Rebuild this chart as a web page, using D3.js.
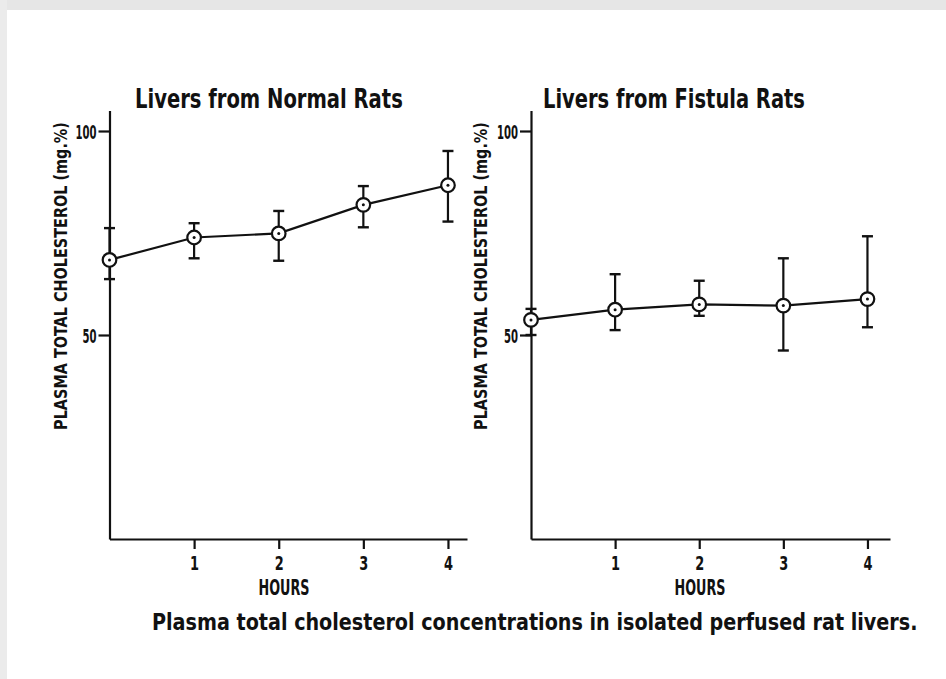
<!DOCTYPE html>
<html>
<head>
<meta charset="utf-8">
<script src="https://cdn.jsdelivr.net/npm/d3@7"></script>
<style>
  html, body { margin: 0; padding: 0; background: #fff; }
  svg { display: block; }
  text { fill: #111; font-family: "DejaVu Sans Condensed", "Liberation Sans Narrow", "DejaVu Sans", sans-serif; }
</style>
</head>
<body>
<script>
// ---- data ----
const hours = [0, 1, 2, 3, 4];
const xTicks = [1, 2, 3, 4];
const yTicks = [50, 100];
const panelTitles = ["Livers from Normal Rats", "Livers from Fistula Rats"];
const normalMean = [68.4, 73.9, 74.9, 81.9, 86.7];
const normalHigh = [76.2, 77.4, 80.4, 86.5, 95.1];
const normalLow  = [63.7, 68.8, 68.2, 76.4, 77.8];
const fistulaMean = [53.7, 56.2, 57.5, 57.2, 58.8];
const fistulaHigh = [56.4, 64.9, 63.3, 68.8, 74.2];
const fistulaLow  = [50.0, 51.2, 54.7, 46.2, 51.9];
const yLabel = "PLASMA TOTAL CHOLESTEROL (mg.%)";
const xLabel = "HOURS";
const caption = "Plasma total cholesterol concentrations in isolated perfused rat livers.";

const W = 946, H = 679;
const svg = d3.select("body").append("svg").attr("width", W).attr("height", H);

// scanned-page frame
svg.append("rect").attr("x", 0).attr("y", 0).attr("width", W).attr("height", H).attr("fill", "#fff");
svg.append("rect").attr("x", 0).attr("y", 0).attr("width", W).attr("height", 10).attr("fill", "#e6e6e6");
svg.append("rect").attr("x", 0).attr("y", 0).attr("width", 7).attr("height", H).attr("fill", "#ebebeb");

// horizontally condense a text element so its width equals target
function condense(node, target) {
  const w = node.getComputedTextLength();
  return w > 0 ? target / w : 1;
}
function placeText(parent, str, x, y, size, target, anchor, rotate) {
  const t = parent.append("text").attr("font-size", size).attr("font-weight", "bold")
    .attr("text-anchor", anchor || "start").text(str);
  const sx = condense(t.node(), target);
  t.attr("transform", `translate(${x},${y})${rotate ? " rotate(-90)" : ""} scale(${sx},1)`);
  return t;
}

const panels = [
  { title: panelTitles[0], mean: normalMean, high: normalHigh, low: normalLow,
    x0: 109.5, x1: 467, xMax: 4.225, titleX: 135, titleW: 268, hoursX: 284, ylabX: 67 },
  { title: panelTitles[1], mean: fistulaMean, high: fistulaHigh, low: fistulaLow,
    x0: 531, x1: 890, xMax: 4.268, titleX: 543, titleW: 262, hoursX: 700, ylabX: 487 }
];

const y = d3.scaleLinear().domain([0, 105]).range([539, 110.6]);

panels.forEach(p => {
  const x = d3.scaleLinear().domain([0, p.xMax]).range([p.x0, p.x1]);
  const g = svg.append("g");

  // y axis
  const ya = g.append("g").attr("transform", `translate(${p.x0},0)`)
    .call(d3.axisLeft(y).tickValues(yTicks).tickSize(11).tickSizeOuter(0).tickPadding(2));
  ya.selectAll("path, line").attr("stroke", "#111").attr("stroke-width", 2.2);
  ya.selectAll("text").attr("font-size", 20).attr("font-weight", "bold").attr("fill", "#111")
    .attr("dy", "0.36em")
    .each(function(d) {
      const s = d3.select(this);
      const xo = +s.attr("x");
      const sx = condense(this, String(d).length * 7);
      s.attr("x", 0).attr("transform", `translate(${xo},0) scale(${sx},1)`);
    });

  // x axis
  const xa = g.append("g").attr("transform", `translate(0,${y(0)})`)
    .call(d3.axisBottom(x).tickValues(xTicks).tickSize(10).tickSizeOuter(0).tickPadding(7)
      .tickFormat(d3.format("d")));
  xa.selectAll("path, line").attr("stroke", "#111").attr("stroke-width", 2.2);
  xa.selectAll("text").attr("font-size", 20).attr("font-weight", "bold").attr("fill", "#111")
    .each(function() {
      const sx = condense(this, 9);
      d3.select(this).attr("transform", `scale(${sx},1)`);
    });

  // titles and labels
  placeText(g, p.title, p.titleX, 108, 27, p.titleW, "start", false);
  placeText(g, xLabel, p.hoursX, 595, 22, 51, "middle", false);
  placeText(g, yLabel, p.ylabX, 276, 18, 308, "middle", true);

  // error bars
  const capW = 5.5;
  hours.forEach((h, i) => {
    const cx = x(h);
    g.append("line").attr("x1", cx).attr("x2", cx).attr("y1", y(p.high[i])).attr("y2", y(p.low[i]))
      .attr("stroke", "#111").attr("stroke-width", 2.2);
    [p.high[i], p.low[i]].forEach(v => {
      g.append("line").attr("x1", cx - capW).attr("x2", cx + capW).attr("y1", y(v)).attr("y2", y(v))
        .attr("stroke", "#111").attr("stroke-width", 2.4);
    });
  });

  // line
  g.append("path").datum(hours.map((h, i) => [h, p.mean[i]]))
    .attr("d", d3.line().x(d => x(d[0])).y(d => y(d[1])))
    .attr("fill", "none").attr("stroke", "#111").attr("stroke-width", 2.2);

  // markers
  hours.forEach((h, i) => {
    g.append("circle").attr("cx", x(h)).attr("cy", y(p.mean[i])).attr("r", 6.8)
      .attr("fill", "#fff").attr("stroke", "#111").attr("stroke-width", 2.2);
    g.append("circle").attr("cx", x(h)).attr("cy", y(p.mean[i])).attr("r", 1.5).attr("fill", "#111");
  });
});

// caption
placeText(svg, caption, 152, 630, 23, 766, "start", false);
</script>
</body>
</html>
